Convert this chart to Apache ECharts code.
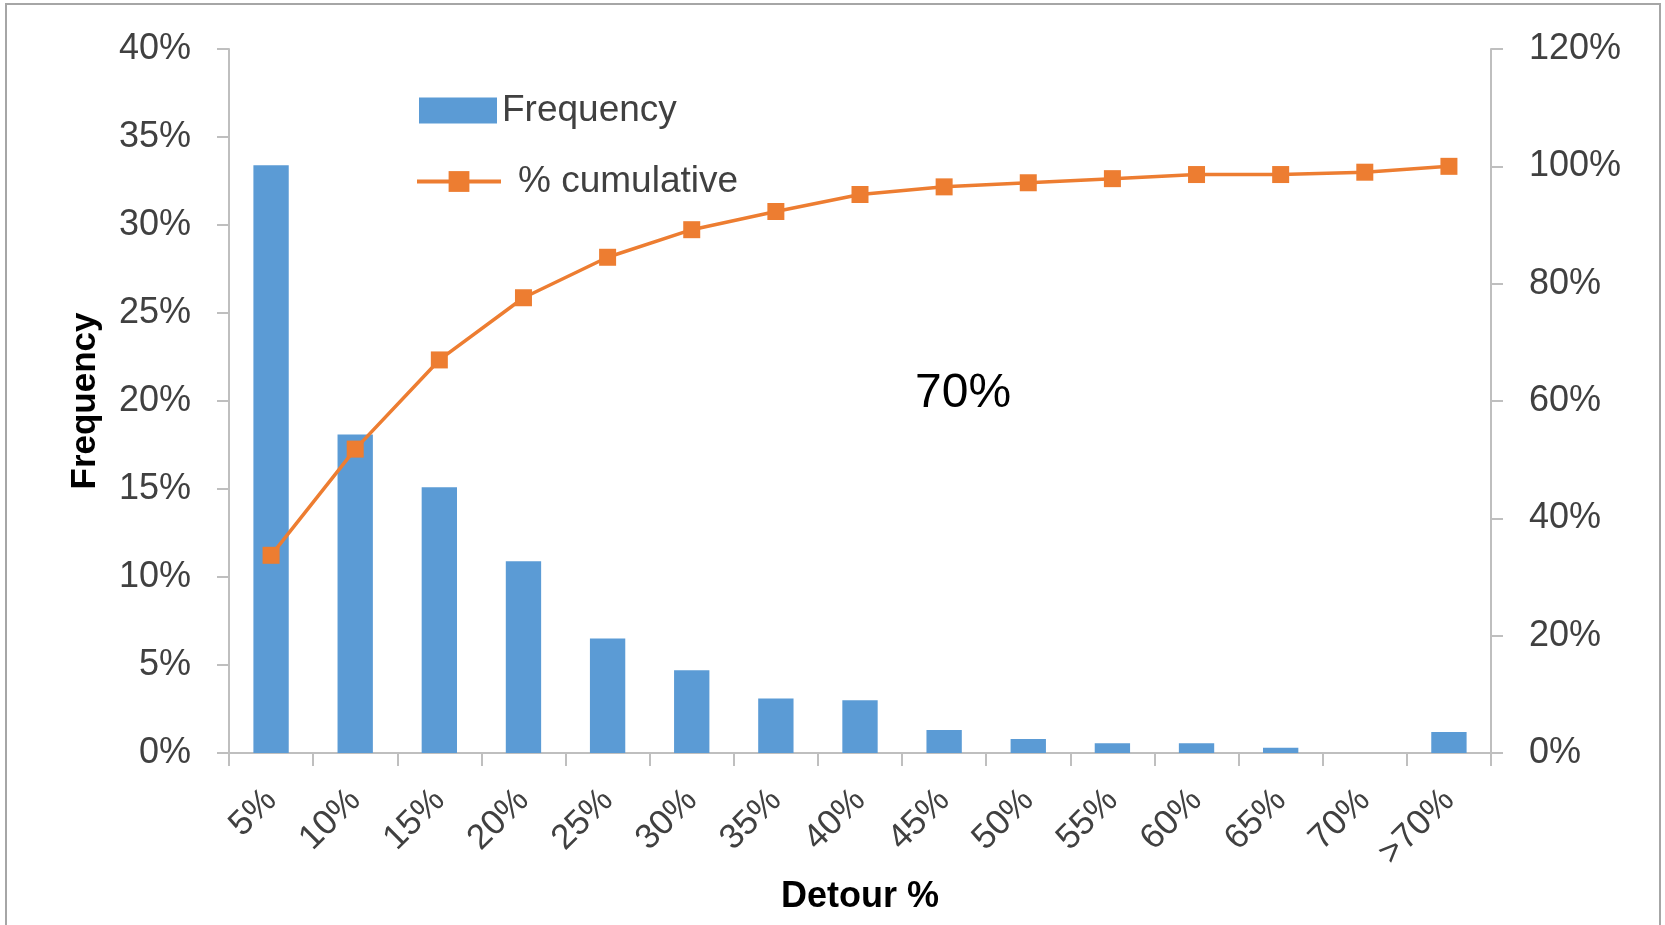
<!DOCTYPE html>
<html>
<head>
<meta charset="utf-8">
<script src="https://cdn.jsdelivr.net/npm/echarts@6/dist/echarts.min.js"></script>
<style>
html,body{margin:0;padding:0;background:#fff;}
#c{width:1665px;height:925px;}
</style>
</head>
<body>
<div id="c"></div>
<script>
const categories = ['5%','10%','15%','20%','25%','30%','35%','40%','45%','50%','55%','60%','65%','70%','>70%'];
const frequency = [33.4, 18.1, 15.1, 10.9, 6.5, 4.7, 3.1, 3.0, 1.3, 0.8, 0.55, 0.55, 0.3, 0, 1.2];
const cumulative = [33.7, 51.8, 67.0, 77.6, 84.5, 89.2, 92.3, 95.2, 96.5, 97.2, 97.9, 98.6, 98.6, 99.0, 100.0];
const leftTicks = {min: 0, max: 40, interval: 5};
const rightTicks = {min: 0, max: 120, interval: 20};

const FONT = 'Liberation Sans';
const chart = echarts.init(document.getElementById('c'));
const axisLineStyle = {color: '#BFBFBF', width: 2};
chart.setOption({
  animation: false,
  backgroundColor: '#fff',
  textStyle: {fontFamily: FONT},
  grid: {left: 229, right: 174, top: 49, bottom: 172, containLabel: false, outerBoundsMode: 'none'},
  legend: [{
    data: [{name: 'Frequency', icon: 'rect'}],
    left: 414, top: 87,
    itemWidth: 78, itemHeight: 26,
    textStyle: {fontSize: 37, color: '#404040', fontFamily: FONT},
    itemStyle: {borderWidth: 0}
  }, {
    data: ['% cumulative'],
    left: 410, top: 158,
    itemWidth: 84, itemHeight: 26,
    lineStyle: {width: 4},
    textStyle: {fontSize: 37, color: '#404040', fontFamily: FONT, padding: [0,0,0,12]}
  }],
  xAxis: {
    type: 'category',
    data: categories,
    name: 'Detour %',
    nameLocation: 'middle',
    nameGap: 126,
    nameTextStyle: {fontSize: 36, fontWeight: 'bold', color: '#000', fontFamily: FONT},
    axisLine: {lineStyle: axisLineStyle},
    axisTick: {show: true, length: 13, lineStyle: {color: '#BFBFBF', width: 2}},
    axisLabel: {rotate: 45, fontSize: 35, color: '#404040', margin: 42, interval: 0, fontFamily: FONT}
  },
  yAxis: [{
    type: 'value',
    min: leftTicks.min, max: leftTicks.max, interval: leftTicks.interval,
    name: 'Frequency',
    nameLocation: 'middle',
    nameGap: 126,
    nameRotate: 90,
    nameTextStyle: {fontSize: 35, fontWeight: 'bold', color: '#000', fontFamily: FONT},
    axisLine: {show: true, lineStyle: axisLineStyle},
    axisTick: {show: true, length: 12, lineStyle: {color: '#BFBFBF', width: 2}},
    splitLine: {show: false},
    axisLabel: {formatter: '{value}%', fontSize: 36, color: '#404040', margin: 38, fontFamily: FONT}
  }, {
    type: 'value',
    min: rightTicks.min, max: rightTicks.max, interval: rightTicks.interval,
    position: 'right',
    axisLine: {show: true, lineStyle: axisLineStyle},
    axisTick: {show: true, length: 12, lineStyle: {color: '#BFBFBF', width: 2}},
    splitLine: {show: false},
    axisLabel: {formatter: '{value}%', fontSize: 36, color: '#404040', margin: 38, align: 'left', fontFamily: FONT}
  }],
  series: [{
    name: 'Frequency',
    type: 'bar',
    data: frequency,
    barWidth: '42%',
    itemStyle: {color: '#5B9BD5'}
  }, {
    name: '% cumulative',
    type: 'line',
    yAxisIndex: 1,
    data: cumulative,
    symbol: 'rect',
    symbolSize: 17,
    lineStyle: {color: '#ED7D31', width: 3.5},
    itemStyle: {color: '#ED7D31'}
  }],
  graphic: [{
    type: 'rect',
    shape: {x: 6, y: 4, width: 1654, height: 930},
    style: {fill: 'none', stroke: '#A6A6A6', lineWidth: 2},
    silent: true
  }, {
    type: 'text',
    left: 915, top: 370,
    style: {text: '70%', fontSize: 48, fill: '#000', fontFamily: FONT}
  }]
});
</script>
</body>
</html>
